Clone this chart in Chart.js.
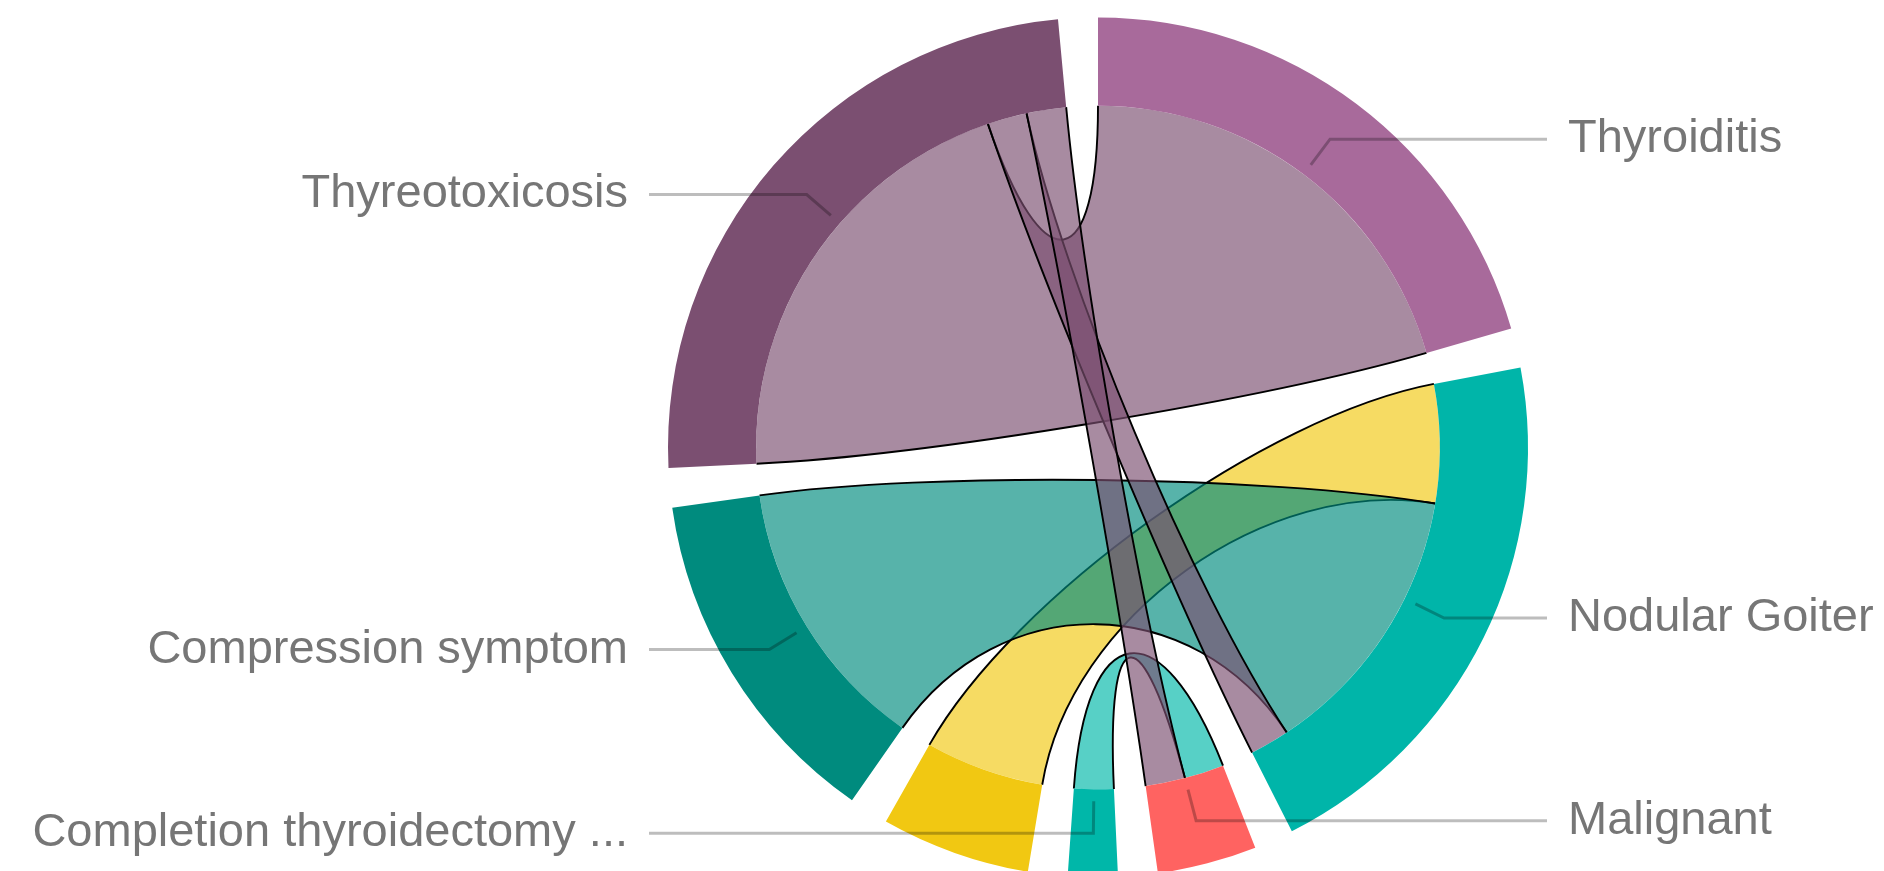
<!DOCTYPE html>
<html>
<head>
<meta charset="utf-8">
<script src="https://cdn.jsdelivr.net/npm/chart.js@4.4.1/dist/chart.umd.min.js"></script>
<style>
  html, body { margin: 0; padding: 0; background: #fff; overflow: hidden; }
  #wrap { width: 1884px; height: 871px; position: relative; }
</style>
</head>
<body>
<div id="wrap"><canvas id="chord"></canvas></div>
<script>
  // nodes, clockwise from 12 o'clock
  const nodeNames = ['Thyroiditis', 'Nodular Goiter', 'Malignant', 'Completion thyroidectomy ...',
                     'Recurrence', 'Compression symptom', 'Thyreotoxicosis'];
  const nodeColors = ['#a86a9b', '#00b5a9', '#ff6361', '#00b7a9', '#f1c812', '#008b7e', '#7b4f71'];
  const showLabel = [true, true, true, true, false, true, true];

  // links (cases), in drawing order
  const linkSource = [4, 5, 3, 6, 6, 6];
  const linkTarget = [1, 1, 2, 0, 1, 2];
  const linkValue  = [3, 7, 1, 11, 1, 1];

  const padAngle = 5.34; // degrees of empty space after each node

  const nodeValues = nodeNames.map((n, i) =>
    linkValue.reduce((s, v, k) => s + (linkSource[k] === i ? v : 0) + (linkTarget[k] === i ? v : 0), 0));
  const total = nodeValues.reduce((a, b) => a + b, 0);
  const gapValue = total * padAngle / (360 - nodeNames.length * padAngle);

  const ringData = [], ringColors = [];
  nodeValues.forEach((v, i) => {
    ringData.push(v, gapValue);
    ringColors.push(nodeColors[i], 'rgba(0,0,0,0)');
  });

  function rgba(hex, a) {
    const n = parseInt(hex.slice(1), 16);
    return `rgba(${n >> 16},${(n >> 8) & 255},${n & 255},${a})`;
  }

  const ribbons = {
    id: 'ribbons',
    beforeDatasetsDraw(chart) {
      const arcs = chart.getDatasetMeta(0).data;
      const ctx = chart.ctx;
      const {x, y, innerRadius: r} = arcs[0];
      const pt = (a, k) => [x + r * k * Math.cos(a), y + r * k * Math.sin(a)];

      // split every node arc between its links, ordered by the other node
      const slots = {};
      nodeNames.forEach((n, i) => {
        const arc = arcs[i * 2];
        const ends = [];
        linkValue.forEach((v, k) => {
          if (linkSource[k] === i) ends.push({key: k + 's', other: linkTarget[k], v});
          if (linkTarget[k] === i) ends.push({key: k + 't', other: linkSource[k], v});
        });
        ends.sort((a, b) => a.other - b.other);
        let a = arc.startAngle;
        const span = arc.endAngle - arc.startAngle;
        ends.forEach(e => {
          const a1 = a + span * e.v / nodeValues[i];
          slots[e.key] = [a, a1];
          a = a1;
        });
      });

      const curve = (a, b) => {
        const c1 = pt(a, 0.5), c2 = pt(b, 0.5), e = pt(b, 1);
        ctx.bezierCurveTo(c1[0], c1[1], c2[0], c2[1], e[0], e[1]);
      };

      ctx.save();
      linkValue.forEach((v, k) => {
        const [s0, s1] = slots[k + 's'];
        const [t0, t1] = slots[k + 't'];
        ctx.beginPath();
        ctx.arc(x, y, r, s0, s1);
        curve(s1, t0);
        ctx.arc(x, y, r, t0, t1);
        curve(t1, s0);
        ctx.closePath();
        ctx.fillStyle = rgba(nodeColors[linkSource[k]], 0.66);
        ctx.fill();

        ctx.beginPath();
        ctx.moveTo(...pt(s1, 1));
        curve(s1, t0);
        ctx.moveTo(...pt(t1, 1));
        curve(t1, s0);
        ctx.strokeStyle = '#000';
        ctx.lineWidth = 1.9;
        ctx.stroke();
      });
      ctx.restore();
    },
    afterDraw(chart) {
      const arcs = chart.getDatasetMeta(0).data;
      const ctx = chart.ctx;
      const {x, y, innerRadius: r, outerRadius: R} = arcs[0];
      ctx.save();
      ctx.font = '47px "Liberation Sans", Arial, sans-serif';
      ctx.textBaseline = 'middle';
      nodeNames.forEach((name, i) => {
        if (!showLabel[i]) return;
        const arc = arcs[i * 2];
        const mid = (arc.startAngle + arc.endAngle) / 2;
        const c = Math.cos(mid), s = Math.sin(mid);
        const right = c >= 0;
        const p1 = [x + (r + 12) * c, y + (r + 12) * s];
        const p2 = [x + (r + 44) * c, y + (r + 44) * s];
        const lineEnd = x + (right ? 1 : -1) * (R + 19);
        ctx.beginPath();
        ctx.moveTo(p1[0], p1[1]);
        ctx.lineTo(p2[0], p2[1]);
        ctx.lineTo(lineEnd, p2[1]);
        ctx.strokeStyle = 'rgba(0,0,0,0.26)';
        ctx.lineWidth = 3;
        ctx.stroke();
        ctx.fillStyle = '#767676';
        ctx.textAlign = right ? 'left' : 'right';
        ctx.fillText(name, x + (right ? 1 : -1) * (R + 40), p2[1]);
      });
      ctx.restore();
    }
  };

  new Chart(document.getElementById('chord'), {
    type: 'doughnut',
    data: {
      labels: nodeNames.flatMap(n => [n, '']),
      datasets: [{
        data: ringData,
        backgroundColor: ringColors,
        borderWidth: 0,
        hoverOffset: 0
      }]
    },
    options: {
      responsive: true,
      maintainAspectRatio: false,
      animation: false,
      events: [],
      radius: 430,
      cutout: '79.5%',
      layout: { padding: { left: 312, top: 24, right: 0, bottom: 0 } },
      plugins: { legend: { display: false }, tooltip: { enabled: false } }
    },
    plugins: [ribbons]
  });
</script>
</body>
</html>
